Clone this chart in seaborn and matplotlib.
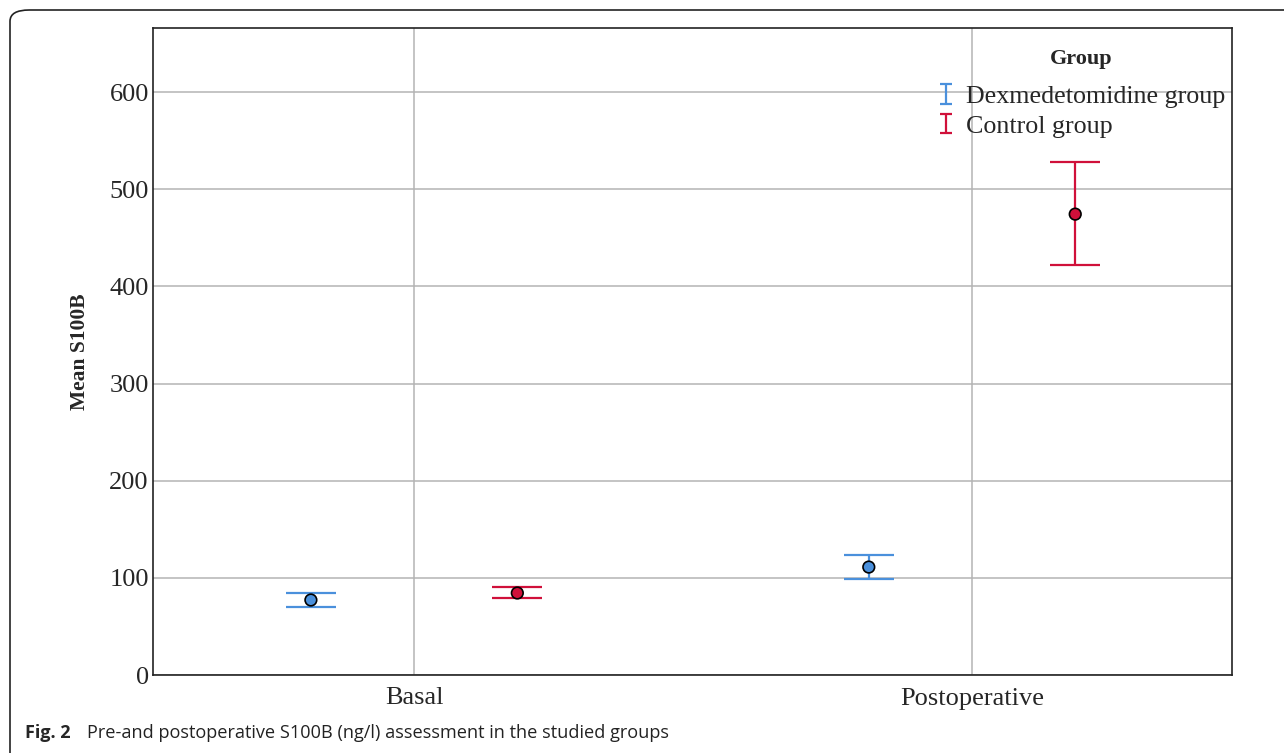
import numpy as np
import pandas as pd
import matplotlib
matplotlib.use("Agg")
import matplotlib.pyplot as plt
from matplotlib.patches import FancyBboxPatch
from matplotlib.legend_handler import HandlerErrorbar
import seaborn as sns

# summary values (mean with 95% CI)
times = ["Basal", "Postoperative"]
groups = ["Dexmedetomidine group", "Control group"]
dex_mean = [77.2, 111.1]
dex_low = [70.0, 98.8]
dex_high = [84.4, 123.5]
ctrl_mean = [84.4, 474.4]
ctrl_low = [79.2, 422.0]
ctrl_high = [90.6, 528.0]
yticks = [0, 100, 200, 300, 400, 500, 600]

colors = {"Dexmedetomidine group": "#4a90dc", "Control group": "#d0103a"}
offsets = {"Dexmedetomidine group": -0.185, "Control group": 0.185}

df = pd.DataFrame({
    "time": times * 2,
    "group": [groups[0]] * 2 + [groups[1]] * 2,
    "mean": dex_mean + ctrl_mean,
    "low": dex_low + ctrl_low,
    "high": dex_high + ctrl_high,
})
df["x"] = df["time"].map({t: i for i, t in enumerate(times)}) + df["group"].map(offsets)

sns.set_style("white")
plt.rcParams["font.family"] = ["Liberation Serif", "DejaVu Serif"]

fig = plt.figure(figsize=(12.84, 7.53), dpi=100)
ax = fig.add_axes([153 / 1284, 78 / 753, 1079 / 1284, 647 / 753])

handles = []
for g in groups:
    sub = df[df["group"] == g]
    ax.errorbar(sub["x"], sub["mean"],
                yerr=[sub["mean"] - sub["low"], sub["high"] - sub["mean"]],
                fmt="none", ecolor=colors[g], elinewidth=1.6, capsize=18,
                capthick=1.6, zorder=3)
    # small-capped copy only for the legend key
    h = ax.errorbar([np.nan], [np.nan], yerr=[[1], [1]], fmt="none",
                    ecolor=colors[g], elinewidth=1.6, capsize=4, capthick=1.6,
                    label=g)
    handles.append(h)

sns.scatterplot(data=df, x="x", y="mean", hue="group", palette=colors,
                s=70, edgecolor="black", linewidth=1.2, legend=False,
                ax=ax, zorder=4)

ax.set_xlim(-0.468, 1.466)
ax.set_ylim(0, 666)
ax.set_xticks(range(len(times)))
ax.set_xticklabels(times, fontsize=19)
ax.set_yticks(yticks)
ax.set_yticklabels([str(v) for v in yticks], fontsize=19)
ax.set_xlabel("")
ax.set_ylabel("Mean S100B", fontsize=15.5, fontweight="bold", labelpad=14)
ax.grid(True, color="#b4b4b4", linewidth=1.1)
ax.set_axisbelow(True)
ax.tick_params(axis="y", length=0, pad=3)
ax.tick_params(axis="x", length=0, pad=9)
for side in ["top", "right", "bottom", "left"]:
    ax.spines[side].set_color("#222222")
    ax.spines[side].set_linewidth(1.2)
    ax.spines[side].set_visible(True)

leg = fig.legend(handles, groups, loc="upper left",
                 bbox_to_anchor=(927 / 1284, 1 - 39 / 753),
                 frameon=False, title="Group", fontsize=18.7, handlelength=0.7,
                 handletextpad=0.4, labelspacing=0.25, borderaxespad=0,
                 handler_map={h: HandlerErrorbar(xerr_size=0.38) for h in handles})
leg.get_title().set_fontweight("bold")
leg.get_title().set_fontsize(16)
leg._legend_box.sep = 11

# figure caption and rounded frame
fig.text(25 / 1284, 1 - 733 / 753, "Fig. 2", fontsize=13, fontweight="bold",
         family="Open Sans", va="center")
fig.text(87 / 1284, 1 - 733 / 753,
         "Pre-and postoperative S100B (ng/l) assessment in the studied groups",
         fontsize=13.1, family="Open Sans", va="center", color="#222222")
frame = FancyBboxPatch((10 / 1284, -0.1), 1.2, 1.1 - 10 / 753,
                       boxstyle="round,pad=0,rounding_size=0.015",
                       transform=fig.transFigure, fill=False,
                       edgecolor="#222222", linewidth=1.2, clip_on=False)
fig.patches.append(frame)

fig.savefig("out.png", dpi=100)
